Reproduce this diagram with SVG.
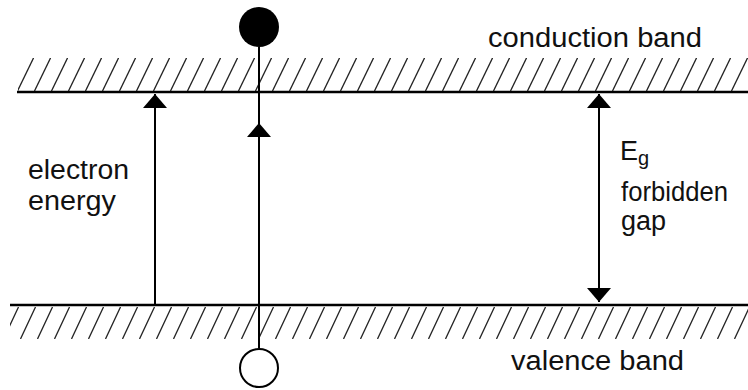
<svg xmlns="http://www.w3.org/2000/svg" width="748" height="390" viewBox="0 0 748 390">
<style>
.t{font-family:"Liberation Sans",Arial,sans-serif;font-size:27px;fill:#111}
.band{stroke:#000;stroke-width:2.6;fill:none}
.hl{stroke:#222;stroke-width:1.3}
.ln{stroke:#000;stroke-width:2;fill:none}
</style>
<defs>
<pattern id="hatchTop" patternUnits="userSpaceOnUse" x="0" y="58" width="17" height="33">
<line class="hl" x1="0.5" y1="33" x2="16.5" y2="0"/>
</pattern>
<pattern id="hatchBot" patternUnits="userSpaceOnUse" x="3" y="307" width="17" height="32">
<line class="hl" x1="0.5" y1="32" x2="15.5" y2="0"/>
</pattern>
<marker id="ah" viewBox="0 0 14 24" refX="14" refY="12" markerWidth="14" markerHeight="24" markerUnits="userSpaceOnUse" orient="auto">
<path d="M0,0 L14,12 L0,24 z" fill="#000"/>
</marker>
</defs>
<rect width="748" height="390" fill="#fff"/>
<g id="conduction-band">
<rect x="18" y="58" width="730" height="33" fill="url(#hatchTop)"/>
<line class="band" x1="17" y1="92" x2="748" y2="92"/>
<text class="t" x="488" y="47" textLength="214" lengthAdjust="spacingAndGlyphs">conduction band</text>
</g>
<g id="valence-band">
<rect x="10" y="307" width="738" height="32" fill="url(#hatchBot)"/>
<line class="band" x1="10" y1="305" x2="748" y2="305"/>
<text class="t" x="511" y="370" textLength="173" lengthAdjust="spacingAndGlyphs">valence band</text>
</g>
<g id="connectors">
<line class="ln" x1="155" y1="305" x2="155" y2="94" marker-end="url(#ah)"/>
<line class="ln" x1="259" y1="348" x2="259" y2="123" marker-end="url(#ah)"/>
<line class="ln" x1="259" y1="130" x2="259" y2="47"/>
<line class="ln" x1="599" y1="200" x2="599" y2="94" marker-end="url(#ah)"/>
<line class="ln" x1="599" y1="200" x2="599" y2="302" marker-end="url(#ah)"/>
</g>
<g id="electron">
<circle cx="259" cy="27" r="20" fill="#000"/>
</g>
<g id="hole">
<circle cx="259" cy="368" r="19" fill="#fff" stroke="#000" stroke-width="2"/>
</g>
<g id="energy-label">
<text class="t" x="28" y="179" textLength="101" lengthAdjust="spacingAndGlyphs">electron</text>
<text class="t" x="28" y="210" textLength="88" lengthAdjust="spacingAndGlyphs">energy</text>
</g>
<g id="gap-label">
<text class="t" x="620" y="160">E<tspan font-size="20" dy="5">g</tspan></text>
<text class="t" x="621" y="201" textLength="107" lengthAdjust="spacingAndGlyphs">forbidden</text>
<text class="t" x="621" y="230">gap</text>
</g>
</svg>
